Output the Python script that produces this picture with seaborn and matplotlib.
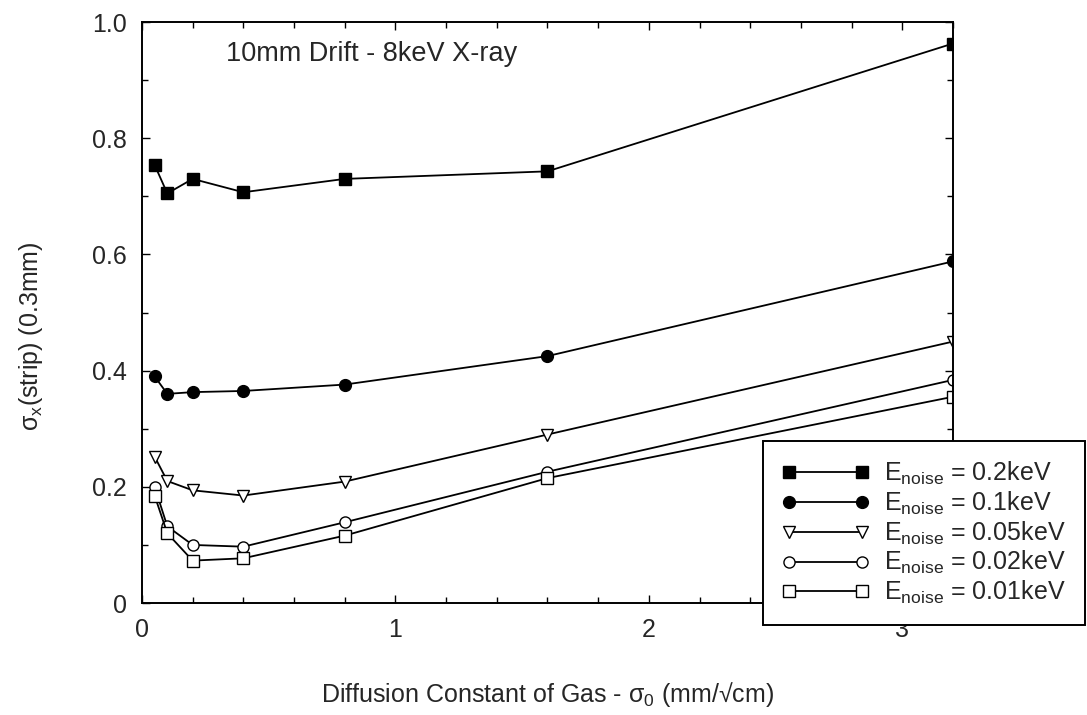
import matplotlib
matplotlib.use("Agg")
import matplotlib.pyplot as plt
import seaborn as sns
import numpy as np

# ---- data ----
sigma0 = [0.05, 0.1, 0.2, 0.4, 0.8, 1.6, 3.2]
e_020 = [0.754, 0.705, 0.730, 0.707, 0.730, 0.743, 0.963]
e_010 = [0.390, 0.360, 0.363, 0.365, 0.376, 0.425, 0.588]
e_005 = [0.252, 0.210, 0.194, 0.185, 0.209, 0.290, 0.450]
e_002 = [0.200, 0.132, 0.100, 0.097, 0.139, 0.226, 0.384]
e_001 = [0.185, 0.120, 0.073, 0.077, 0.116, 0.215, 0.355]
labels = ["0.2keV", "0.1keV", "0.05keV", "0.02keV", "0.01keV"]
xticks = [0, 1, 2, 3]
yticks = [0, 0.2, 0.4, 0.6, 0.8, 1.0]
ytick_labels = ["0", "0.2", "0.4", "0.6", "0.8", "1.0"]

sns.set_theme(style="ticks")
plt.rcParams["font.family"] = ["Liberation Sans", "DejaVu Sans"]
plt.rcParams["mathtext.fontset"] = "custom"
plt.rcParams["mathtext.rm"] = "Liberation Sans"
plt.rcParams["mathtext.it"] = "Liberation Sans"
plt.rcParams["mathtext.bf"] = "Liberation Sans:bold"
plt.rcParams["mathtext.default"] = "regular"

fig = plt.figure(figsize=(10.87, 7.15), dpi=100)
ax = fig.add_axes([0.1306, 0.1566, 0.7461, 0.8126])

series = [e_020, e_010, e_005, e_002, e_001]
markers = ["s", "o", "v", "o", "s"]
filled = [True, True, False, False, False]
msizes = [8.5, 8.5, 8, 8, 8]

for ys, m, f, ms, lab in zip(series, markers, filled, msizes, labels):
    sns.lineplot(x=sigma0, y=ys, ax=ax, color="black", linewidth=1.3,
                 marker=m, markersize=ms,
                 markerfacecolor=("black" if f else "white"),
                 markeredgecolor="black", markeredgewidth=1.0,
                 label=r"E$_{noise}$ = " + lab, legend=False)

ax.set_xlim(0, 3.2)
ax.set_ylim(0, 1.0)
ax.set_xticks(xticks)
ax.set_xticklabels([str(t) for t in xticks])
ax.set_xticks(np.arange(0, 3.21, 0.2), minor=True)
ax.set_yticks(yticks)
ax.set_yticklabels(ytick_labels)
ax.set_yticks(np.arange(0, 1.01, 0.1), minor=True)
ax.tick_params(which="both", direction="in", top=True, right=True,
               labelsize=18, width=1.0, color="black")
ax.tick_params(which="major", length=6, pad=11)
ax.tick_params(which="minor", length=4)
for sp in ax.spines.values():
    sp.set_linewidth(1.4)
    sp.set_color("black")

ax.set_xlabel(r"Diffusion Constant of Gas - $\sigma_0$ (mm/√cm)", fontsize=18, labelpad=27)
ax.set_ylabel(r"$\sigma_x$(strip) (0.3mm)", fontsize=18)
ax.yaxis.set_label_coords(-0.12, 0.46)

ax.text(0.33, 0.945, "10mm Drift - 8keV X-ray", fontsize=19.5, ha="left", va="center",
        transform=ax.transData)

handles, labs = ax.get_legend_handles_labels()
leg = fig.legend(handles, labs, loc="lower left", bbox_to_anchor=(0.702, 0.126),
                 borderaxespad=0, fontsize=18, numpoints=2, handlelength=3.5,
                 labelspacing=0.1, frameon=True, fancybox=False, borderpad=0.75,
                 handletextpad=0.6)
leg.get_frame().set_edgecolor("black")
leg.get_frame().set_linewidth(1.4)
leg.get_frame().set_alpha(1)

fig.savefig("out.png", dpi=100)
